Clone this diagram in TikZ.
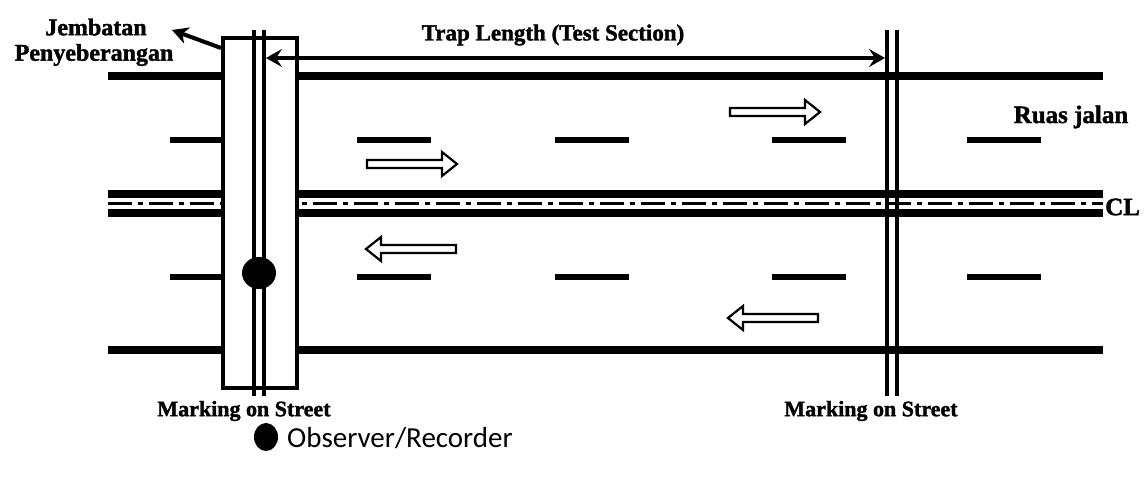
\documentclass[tikz,border=0pt]{standalone}
\usepackage{fontspec}
\setmainfont{Liberation Serif}[BoldFeatures={FakeBold=1.5}]
\newfontfamily\obsfont{Carlito}
\usetikzlibrary{arrows.meta,shapes.geometric}
\begin{document}
\begin{tikzpicture}[x=1pt,y=-1pt,
  roadline/.style={line width=8pt},
  laneline/.style={line width=5.5pt},
  lbl/.style={inner sep=0pt, font=\bfseries\fontsize{#1}{#1}\selectfont},
  hollow/.style={draw, line width=2.2pt, fill=white, line join=miter},
  rarrow/.pic={\draw[hollow] (0,-4) -- (75,-4) -- (75,-12) -- (90,0) -- (75,12) -- (75,4) -- (0,4) -- cycle;},
  larrow/.pic={\draw[hollow] (0,-4) -- (-75,-4) -- (-75,-12) -- (-90,0) -- (-75,12) -- (-75,4) -- (0,4) -- cycle;}
]
\useasboundingbox[fill=white] (0,0) rectangle (1144,484);

% road edges
\draw[roadline] (108,76) -- (1103,76);
\draw[roadline] (108,350) -- (1103,350);
% centre line
\draw[roadline] (108,194) -- (1103,194);
\draw[roadline] (108,213) -- (1103,213);
\draw[line width=3pt, dash pattern=on 24pt off 6pt on 5pt off 6pt] (108,204) -- (1103,204);

% lane dashes
\foreach \y in {140,277}{
  \draw[laneline] (170,\y) -- (222,\y);
  \foreach \a in {357,555,772,967}{
    \draw[laneline] (\a,\y) -- ({\a+74},\y);
  }
}

% direction arrows
\pic at (367,164) {rarrow};
\pic at (730,112) {rarrow};
\pic at (456,249) {larrow};
\pic at (818,318) {larrow};

% pedestrian bridge
\node[draw, fill=white, line width=4pt, minimum width=74pt, minimum height=350pt, inner sep=0pt] (bridge) at (260,213) {};
\coordinate (m1t) at (254,30); \coordinate (m1b) at (254,396);
\coordinate (m2t) at (264,30); \coordinate (m2b) at (264,396);
\draw[line width=3.5pt] (m1t) -- (m1b);
\draw[line width=3.5pt] (m2t) -- (m2b);
\node[fill=black, ellipse, minimum width=34pt, minimum height=32pt, inner sep=0pt] (obs) at (259,273) {};

% second marking
\coordinate (m3t) at (887,30); \coordinate (m3b) at (887,396);
\coordinate (m4t) at (897,30); \coordinate (m4b) at (897,396);
\draw[line width=4.5pt] (m3t) -- (m3b);
\draw[line width=4.5pt] (m4t) -- (m4b);

% trap length
\coordinate (trapL) at (266,58);
\coordinate (trapR) at (885,58);
\draw[line width=4pt, {Stealth[length=16pt,width=18pt,inset=6pt]}-{Stealth[length=16pt,width=18pt,inset=6pt]}] (trapL) -- (trapR);
\node[lbl=23] (trap) at (553,35) {Trap Length (Test Section)};

% labels
\node[lbl=24] (jemb) at (96,27) {Jembatan};
\node[lbl=24] (peny) at (94,55) {Penyeberangan};
\coordinate (jarr) at (221,48);
\draw[line width=4pt, -{Stealth[length=16pt,width=17pt,inset=5pt]}] (jarr) -- (172,30);
\node[lbl=25] (ruas) at (1071,117) {Ruas jalan};
\node[lbl=25, anchor=west] (cl) at (1105,207) {CL};
\node[lbl=22] (mk1) at (244,411) {Marking on Street};
\node[lbl=22] (mk2) at (871,411) {Marking on Street};

% legend
\node[fill=black, ellipse, minimum width=24pt, minimum height=28pt, inner sep=0pt] (legdot) at (266,437) {};
\node[inner sep=0pt, anchor=west, font=\obsfont\fontsize{29}{29}\selectfont] (legtxt) at (287,438) {Observer/Recorder};
\end{tikzpicture}
\end{document}
